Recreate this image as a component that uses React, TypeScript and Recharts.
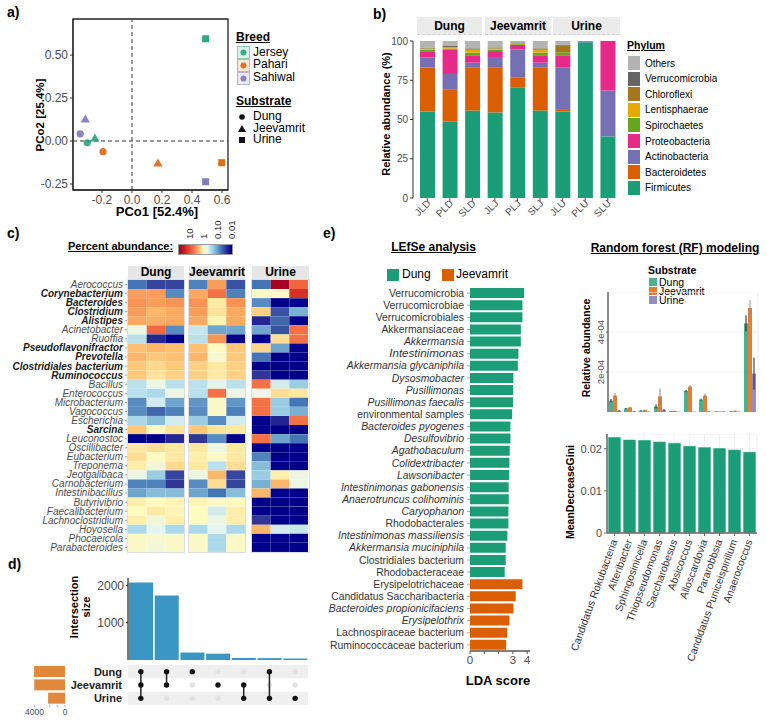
import React from 'react'
import {
  ScatterChart, Scatter, BarChart, Bar, Cell, XAxis, YAxis, CartesianGrid,
  ReferenceLine, ReferenceArea, ErrorBar,
} from 'recharts'

const FONT = '"Liberation Sans", Arial, Helvetica, sans-serif'
const TICK = '#4d4d4d'
const GREEN = '#1b9e77'
const ORANGE = '#d95f02'
const PURPLE = '#7570b3'

// ---------- a) PCoA ----------
const breeds = ['Jersey', 'Pahari', 'Sahiwal']
const dungPco1 = [-0.298, -0.193, -0.345]
const dungPco2 = [-0.01, -0.062, 0.041]
const jeevamritPco1 = [-0.247, 0.173, -0.311]
const jeevamritPco2 = [0.016, -0.13, 0.126]
const urinePco1 = [0.491, 0.598, 0.491]
const urinePco2 = [0.595, -0.126, -0.237]
const PCO1_DOMAIN = [-0.393, 0.64]
const PCO2_DOMAIN = [-0.285, 0.71]

// ---------- b) phylum composition ----------
const samples = ['JLD', 'PLD', 'SLD', 'JLJ', 'PLJ', 'SLJ', 'JLU', 'PLU', 'SLU']
const firmicutes = [55, 48.7, 55.7, 54.5, 70.6, 55.7, 55.1, 99.2, 39.2]
const bacteroidetes = [28, 20.6, 27.6, 28.8, 6.3, 27.6, 1.0, 0, 0]
const actinobacteria = [6.5, 9.7, 2.9, 6.5, 17.8, 2.9, 27.2, 0.6, 29.2]
const proteobacteria = [4, 15.7, 4.3, 3.8, 2.8, 4.3, 7.6, 0.2, 31.6]
const spirochaetes = [1, 0.5, 2.1, 1, 0.5, 2.1, 1.9, 0, 0]
const lentisphaerae = [0.6, 0.7, 1.7, 0.6, 0.8, 1.7, 0, 0, 0]
const chloroflexi = [0.2, 0.2, 0.3, 0.2, 0.1, 0.3, 4.2, 0, 0]
const verrucomicrobia = [0.5, 1, 0.7, 0.5, 0.3, 0.7, 0.5, 0, 0]
const others = [4.2, 2.9, 4.7, 4.1, 0.8, 4.7, 2.5, 0, 0]
const phylumOrder = ['Firmicutes', 'Bacteroidetes', 'Actinobacteria', 'Proteobacteria', 'Spirochaetes', 'Lentisphaerae', 'Chloroflexi', 'Verrucomicrobia', 'Others']
const phylumColors: Record<string, string> = {
  Firmicutes: '#1b9e77', Bacteroidetes: '#d95f02', Actinobacteria: '#7570b3', Proteobacteria: '#e7298a',
  Spirochaetes: '#66a61e', Lentisphaerae: '#e6ab02', Chloroflexi: '#a6761d', Verrucomicrobia: '#666666', Others: '#b3b3b3',
}

// ---------- c) genus heatmap (percent abundance, samples J / P / S) ----------
const genera = [
  'Aerococcus', 'Corynebacterium', 'Bacteroides', 'Clostridium', 'Alistipes', 'Acinetobacter', 'Ruoffia',
  'Pseudoflavonifractor', 'Prevotella', 'Clostridiales bacterium', 'Ruminococcus', 'Bacillus', 'Enterococcus',
  'Microbacterium', 'Vagococcus', 'Escherichia', 'Sarcina', 'Leuconostoc', 'Oscillibacter', 'Eubacterium',
  'Treponema', 'Jeotgalibaca', 'Carnobacterium', 'Intestinibacillus', 'Butyrivibrio', 'Faecalibacterium',
  'Lachnoclostridium', 'Hoyosella', 'Phocaeicola', 'Parabacteroides',
]
const boldGenera = new Set(['Corynebacterium', 'Bacteroides', 'Clostridium', 'Alistipes', 'Pseudoflavonifractor', 'Prevotella', 'Clostridiales bacterium', 'Ruminococcus', 'Sarcina'])
const dungAbundance = [
  [0.05, 0.025, 0.025], [3.5, 3.5, 0.07], [4, 3.5, 4], [3.5, 2.5, 3], [3, 2.8, 3], [0.6, 7, 0.07],
  [0.3, 0.015, 0.005], [2.2, 2.5, 2.2], [2.5, 2, 2.2], [2, 1.6, 2], [2, 1.4, 1.8], [0.3, 0.6, 0.3],
  [0.3, 0.25, 0.6], [0.07, 0.4, 0.1], [0.07, 0.04, 0.06], [0.25, 0.15, 0.4], [2, 0.9, 1.4],
  [0.005, 0.005, 0.015], [1.3, 1.5, 1.3], [1.5, 1.0, 1.3], [1.2, 0.7, 1.6], [0.6, 0.2, 0.025],
  [0.06, 0.06, 0.02], [0.1, 0.15, 0.15], [1.2, 1.0, 1.1], [1.0, 1.3, 1.1], [1.2, 0.7, 1.2],
  [0.25, 0.5, 0.25], [0.9, 0.8, 0.9], [0.9, 0.7, 0.9],
]
const jeevamritAbundance = [
  [0.06, 3.5, 0.03], [3, 6, 0.06], [4, 1.3, 4], [3.5, 1.4, 3], [3, 1.1, 3], [0.35, 0.1, 0.1],
  [0.3, 4, 0.005], [2.2, 1.0, 2], [2.5, 0.8, 2], [1.8, 1.3, 1.8], [1.8, 1.3, 1.8], [0.3, 0.5, 0.3],
  [0.3, 6, 0.6], [0.08, 0.9, 0.08], [0.07, 0.9, 0.06], [0.2, 0.07, 0.4], [2, 1.4, 1.3],
  [0.02, 0.07, 0.005], [1.3, 0.6, 1.3], [1.2, 0.9, 1.3], [1.3, 0.3, 1.5], [0.6, 2.5, 0.025],
  [0.07, 1.5, 0.025], [0.1, 0.05, 0.15], [1.1, 0.9, 1.0], [1.0, 0.4, 1.2], [1.0, 0.6, 1.2],
  [0.25, 0.5, 0.25], [0.9, 0.25, 0.9], [0.9, 0.25, 0.9],
]
const urineAbundance = [
  [0.05, 60, 7], [0.9, 0.9, 20], [0.07, 0.005, 0.005], [1.8, 0.03, 0.12], [0.015, 0.04, 0.005],
  [0.1, 0.03, 6], [0.005, 1.5, 6], [1.7, 0.1, 0.005], [0.05, 0.005, 0.005], [0.005, 0.005, 0.005],
  [0.02, 0.005, 0.005], [6, 0.4, 0.2], [0.6, 1.5, 1.3], [6, 0.2, 0.05], [6, 0.2, 0.12],
  [0.005, 0.015, 6], [0.005, 0.005, 0.005], [6, 0.1, 0.05], [0.005, 0.005, 0.005], [0.06, 0.005, 0.005],
  [0.15, 0.005, 0.005], [0.2, 1.2, 0.6], [0.12, 2.5, 0.6], [2.5, 0.005, 0.005], [0.005, 0.005, 0.005],
  [0.005, 0.005, 0.005], [0.02, 0.005, 0.005], [2.5, 0.4, 0.35], [0.005, 0.005, 0.005], [0.005, 0.005, 0.005],
]

// ---------- d) UpSet ----------
const setNames = ['Dung', 'Jeevamrit', 'Urine']
const setSizes = [4060, 4035, 2225]
const intersectionSizes = [2080, 1730, 200, 170, 55, 50, 40]
const intersectionMembers = [
  ['Dung', 'Jeevamrit', 'Urine'], ['Dung', 'Jeevamrit'], ['Dung'], ['Jeevamrit'],
  ['Jeevamrit', 'Urine'], ['Dung', 'Urine'], ['Urine'],
]

// ---------- e) LEfSe ----------
const lefseTaxa = [
  'Verrucomicrobia', 'Verrucomicrobiae', 'Verrucomicrobiales', 'Akkermansiaceae', 'Akkermansia', 'Intestinimonas',
  'Akkermansia glycaniphila', 'Dysosmobacter', 'Pusillimonas', 'Pusillimonas faecalis', 'environmental samples',
  'Bacteroides pyogenes', 'Desulfovibrio', 'Agathobaculum', 'Colidextribacter', 'Lawsonibacter',
  'Intestinimonas gabonensis', 'Anaerotruncus colihominis', 'Caryophanon', 'Rhodobacterales',
  'Intestinimonas massiliensis', 'Akkermansia muciniphila', 'Clostridiales bacterium', 'Rhodobacteraceae',
  'Erysipelotrichaceae', 'Candidatus Saccharibacteria', 'Bacteroides propionicifaciens', 'Erysipelothrix',
  'Lachnospiraceae bacterium', 'Ruminococcaceae bacterium',
]
const lefseScores = [
  3.79, 3.67, 3.67, 3.56, 3.56, 3.39, 3.35, 3.04, 3.02, 3.02, 2.95, 2.83, 2.83, 2.78, 2.76,
  2.74, 2.71, 2.71, 2.69, 2.69, 2.62, 2.5, 2.5, 2.43, 3.67, 3.2, 3.04, 2.76, 2.6, 2.53,
]
const lefseGroups = [...Array(24).fill('Dung'), ...Array(6).fill('Jeevamrit')]
const italicTaxa = new Set([
  'Akkermansia', 'Intestinimonas', 'Akkermansia glycaniphila', 'Dysosmobacter', 'Pusillimonas', 'Pusillimonas faecalis',
  'Bacteroides pyogenes', 'Desulfovibrio', 'Agathobaculum', 'Colidextribacter', 'Lawsonibacter', 'Intestinimonas gabonensis',
  'Anaerotruncus colihominis', 'Caryophanon', 'Intestinimonas massiliensis', 'Akkermansia muciniphila',
  'Bacteroides propionicifaciens', 'Erysipelothrix',
])

// ---------- e) random forest ----------
const rfGenera = [
  'Candidatus Rokubacteria', 'Alteribacter', 'Sphingosinicella', 'Thiopseudomonas', 'Saccharobesus',
  'Absicoccus', 'Alloscardovia', 'Pararobbsia', 'Candidatus Puniceispirillum', 'Anaerococcus',
]
const rfDung = [5.7e-5, 1.8e-5, 0.7e-5, 2.7e-5, 0.4e-5, 10.5e-5, 6.2e-5, 0.3e-5, 0.3e-5, 44.3e-5]
const rfDungSe = [0.8e-5, 0.3e-5, 0.2e-5, 1.0e-5, 0.1e-5, 0.6e-5, 0.5e-5, 0.1e-5, 0.1e-5, 4e-5]
const rfJeevamrit = [8.2e-5, 2.3e-5, 1.0e-5, 7.8e-5, 0.5e-5, 12.7e-5, 8.2e-5, 0.3e-5, 0.6e-5, 52e-5]
const rfJeevamritSe = [1.2e-5, 0.3e-5, 0.2e-5, 4e-5, 0.2e-5, 0.8e-5, 1.0e-5, 0.1e-5, 0.2e-5, 3.9e-5]
const rfUrine = [0.7e-5, 0.3e-5, 0.1e-5, 1.0e-5, 0.1e-5, 0.1e-5, 0.3e-5, 0.2e-5, 0.1e-5, 19.2e-5]
const rfUrineSe = [0.3e-5, 0.2e-5, 0.1e-5, 0.5e-5, 0.05e-5, 0.1e-5, 0.1e-5, 0.1e-5, 0.1e-5, 8e-5]
const rfGini = [0.0228, 0.0222, 0.0221, 0.0217, 0.0214, 0.0207, 0.0204, 0.0202, 0.0198, 0.0193]

// log10 colour ramp for percent abundance
const heatStops: [number, string][] = [
  [1.8, '#a50026'], [1.3, '#d73027'], [0.8, '#f46d43'], [0.55, '#f99d59'], [0.35, '#fdbf6f'],
  [0.15, '#fee39a'], [0, '#fffac0'], [-0.3, '#e6f4ef'], [-0.6, '#abd9e9'], [-0.95, '#74add1'],
  [-1.3, '#4575b4'], [-1.7, '#313695'], [-2.1, '#00008b'],
]
function mix(a: string, b: string, t: number) {
  const pa = [1, 3, 5].map((i) => parseInt(a.slice(i, i + 2), 16))
  const pb = [1, 3, 5].map((i) => parseInt(b.slice(i, i + 2), 16))
  return 'rgb(' + pa.map((v, i) => Math.round(v + (pb[i] - v) * t)).join(',') + ')'
}
function logColor(l: number) {
  if (l >= heatStops[0][0]) return heatStops[0][1]
  for (let i = 1; i < heatStops.length; i++) {
    if (l >= heatStops[i][0]) {
      const [l0, c0] = heatStops[i - 1]
      const [l1, c1] = heatStops[i]
      return mix(c0, c1, (l0 - l) / (l0 - l1))
    }
  }
  return heatStops[heatStops.length - 1][1]
}
const heatColor = (pct: number) => logColor(Math.log10(pct))

type LabelProps = {
  x: number; y: number; size?: number; bold?: boolean; italic?: boolean; underline?: boolean
  color?: string; center?: boolean; rotate?: boolean; children: React.ReactNode
}
function Label({ x, y, size = 12, bold, italic, underline, color = '#000', center, rotate, children }: LabelProps) {
  let transform: string | undefined
  if (rotate) transform = 'translate(-50%, -50%) rotate(-90deg)'
  else if (center) transform = 'translateX(-50%)'
  return (
    <div style={{
      position: 'absolute', left: x, top: y, fontSize: size, fontWeight: bold ? 700 : 400,
      fontStyle: italic ? 'italic' : 'normal', textDecoration: underline ? 'underline' : 'none',
      color, whiteSpace: 'nowrap', lineHeight: 1.1, transform, textAlign: 'center', fontFamily: FONT,
    }}>{children}</div>
  )
}

const Box = ({ x, y, w, h, style }: { x: number; y: number; w: number; h: number; style?: React.CSSProperties }) => (
  <div style={{ position: 'absolute', left: x, top: y, width: w, height: h, boxSizing: 'border-box', ...style }} />
)

const At = ({ x, y, children }: { x: number; y: number; children: React.ReactNode }) => (
  <div style={{ position: 'absolute', left: x, top: y }}>{children}</div>
)

// ---------- panel a ----------
const breedColor: Record<string, string> = { Jersey: GREEN, Pahari: ORANGE, Sahiwal: PURPLE }
function pcoShape(kind: 'circle' | 'triangle' | 'square') {
  return (p: any) => {
    const { cx, cy, payload } = p
    const fill = breedColor[payload.breed]
    if (kind === 'circle') return <circle cx={cx} cy={cy} r={3.6} fill={fill} fillOpacity={0.85} />
    if (kind === 'square') return <rect x={cx - 3.5} y={cy - 3.5} width={7} height={7} fill={fill} fillOpacity={0.9} />
    return <polygon points={`${cx},${cy - 4.8} ${cx + 4.6},${cy + 3.2} ${cx - 4.6},${cy + 3.2}`} fill={fill} fillOpacity={0.85} />
  }
}

function PcoaPanel() {
  const pts = (xs: number[], ys: number[]) => breeds.map((b, i) => ({ breed: b, x: xs[i], y: ys[i] }))
  const tick = { fill: TICK, fontSize: 12, fontFamily: FONT }
  return (
    <>
      <Label x={7} y={5} size={14} bold>a)</Label>
      <At x={0} y={0}>
        <ScatterChart width={240} height={222} margin={{ top: 19, right: 12, bottom: 0, left: 0 }}>
          <XAxis type="number" dataKey="x" domain={PCO1_DOMAIN} allowDataOverflow ticks={[-0.2, 0, 0.2, 0.4, 0.6]}
            tickFormatter={(v: number) => v.toFixed(1)} height={32} tick={tick} tickSize={3}
            axisLine={{ stroke: '#222' }} tickLine={{ stroke: '#333' }} />
          <YAxis type="number" dataKey="y" domain={PCO2_DOMAIN} allowDataOverflow ticks={[-0.25, 0, 0.25, 0.5]}
            tickFormatter={(v: number) => v.toFixed(2)} width={73} tick={tick} tickSize={3}
            axisLine={{ stroke: '#222' }} tickLine={{ stroke: '#333' }} />
          <ReferenceArea x1={PCO1_DOMAIN[0]} x2={PCO1_DOMAIN[1]} y1={PCO2_DOMAIN[0]} y2={PCO2_DOMAIN[1]}
            fill="none" stroke="#222" strokeWidth={1.3} ifOverflow="visible" />
          <ReferenceLine x={0} stroke="#555" strokeDasharray="4 3" strokeWidth={1.2} />
          <ReferenceLine y={0} stroke="#333" strokeDasharray="4 3" strokeWidth={1.2} />
          <Scatter data={pts(dungPco1, dungPco2)} shape={pcoShape('circle')} isAnimationActive={false} />
          <Scatter data={pts(jeevamritPco1, jeevamritPco2)} shape={pcoShape('triangle')} isAnimationActive={false} />
          <Scatter data={pts(urinePco1, urinePco2)} shape={pcoShape('square')} isAnimationActive={false} />
        </ScatterChart>
      </At>
      <Label x={40} y={115} size={11.5} bold rotate>PCo2 [25.4%]</Label>
      <Label x={157} y={205} size={13} bold center>PCo1 [52.4%]</Label>

      <Label x={236} y={31} size={12} bold underline>Breed</Label>
      {breeds.map((b, i) => (
        <React.Fragment key={b}>
          <svg style={{ position: 'absolute', left: 237, top: 46 + i * 12.8 }} width={13} height={13}>
            <rect x={0.5} y={0.5} width={12} height={12} fill={breedColor[b]} fillOpacity={0.15} stroke={breedColor[b]} strokeOpacity={0.5} />
            <circle cx={6.5} cy={6.5} r={3} fill={breedColor[b]} fillOpacity={0.85} />
          </svg>
          <Label x={253} y={45.5 + i * 12.8} size={12}>{b}</Label>
        </React.Fragment>
      ))}
      <Label x={236} y={95} size={12} bold underline>Substrate</Label>
      {['Dung', 'Jeevamrit', 'Urine'].map((s, i) => (
        <React.Fragment key={s}>
          <svg style={{ position: 'absolute', left: 237, top: 111 + i * 11.7 }} width={12} height={12}>
            {i === 0 && <circle cx={5} cy={6} r={2.8} fill="#111" />}
            {i === 1 && <polygon points="5,2 9,9 1,9" fill="#111" />}
            {i === 2 && <rect x={2} y={3} width={6} height={6} fill="#111" />}
          </svg>
          <Label x={253} y={110 + i * 11.7} size={12}>{s}</Label>
        </React.Fragment>
      ))}
    </>
  )
}

// ---------- panel b ----------
function SampleTick({ x, y, payload }: any) {
  const ax = x + 4
  const ay = y + 1
  return (
    <text x={ax} y={ay} textAnchor="end" transform={`rotate(-45 ${ax} ${ay})`} fontSize={10} fill={TICK} fontFamily={FONT}>
      {payload.value}
    </text>
  )
}

function PhylumPanel() {
  const series: Record<string, number[]> = {
    Firmicutes: firmicutes, Bacteroidetes: bacteroidetes, Actinobacteria: actinobacteria, Proteobacteria: proteobacteria,
    Spirochaetes: spirochaetes, Lentisphaerae: lentisphaerae, Chloroflexi: chloroflexi, Verrucomicrobia: verrucomicrobia, Others: others,
  }
  const data = samples.map((s, i) => {
    const row: Record<string, string | number> = { sample: s }
    phylumOrder.forEach((p) => { row[p] = series[p][i] })
    return row
  })
  const strips = [['Dung', 417, 65], ['Jeevamrit', 485, 66], ['Urine', 553, 67]] as const
  return (
    <>
      <Label x={373} y={7} size={14} bold>b)</Label>
      {strips.map(([t, x, w]) => (
        <div key={t} style={{
          position: 'absolute', left: x, top: 17, width: w, height: 18, background: '#ebebeb',
          fontFamily: FONT, fontWeight: 700, fontSize: 12, lineHeight: '18px', textAlign: 'center',
          borderBottom: '1px dashed #cfcfcf', boxSizing: 'border-box',
        }}>{t}</div>
      ))}
      <At x={330} y={0}>
        <BarChart width={300} height={230} data={data} margin={{ top: 41, right: 11, bottom: 2, left: 0 }} barSize={15}>
          <XAxis dataKey="sample" height={30} interval={0} tick={<SampleTick />} padding={{ left: 3, right: 0 }}
            axisLine={false} tickSize={3} tickLine={{ stroke: '#555' }} />
          <YAxis domain={[0, 100]} ticks={[0, 25, 50, 75, 100]} width={83} tickSize={3}
            tick={{ fill: TICK, fontSize: 10, fontFamily: FONT }} axisLine={{ stroke: '#333' }} tickLine={{ stroke: '#333' }} />
          {phylumOrder.map((p) => (
            <Bar key={p} dataKey={p} stackId="phyla" fill={phylumColors[p]} isAnimationActive={false} />
          ))}
        </BarChart>
      </At>
      <Label x={385.5} y={114} size={11} bold rotate>Relative abundance (%)</Label>
      <Label x={627} y={40} size={10.5} bold underline>Phylum</Label>
      {[...phylumOrder].reverse().map((p, i) => (
        <React.Fragment key={p}>
          <Box x={628} y={56 + i * 15.6} w={12} h={14} style={{ background: phylumColors[p] }} />
          <Label x={645} y={57.5 + i * 15.6} size={10}>{p}</Label>
        </React.Fragment>
      ))}
    </>
  )
}

// ---------- panel c ----------
function GenusTick({ x, y, payload }: any) {
  const bold = boldGenera.has(payload.value)
  return (
    <text x={x} y={y} dy={3.4} textAnchor="end" fontFamily={FONT} fontSize={10} fontStyle="italic"
      fontWeight={bold ? 700 : 400} fill={bold ? '#1a1a1a' : '#4d4d4d'}>{payload.value}</text>
  )
}

// each facet draws its plot 272px tall, starting 8px below the chart top
function HeatFacet({ values, labels }: { values: number[][]; labels: boolean }) {
  const rows = genera.map((g) => ({ genus: g, s1: 1, s2: 1, s3: 1 }))
  const width = labels ? 184 : 56
  return (
    <BarChart layout="vertical" width={width} height={284} data={rows} margin={{ top: 8, right: 0, bottom: 4, left: 0 }} barCategoryGap={0}>
      <XAxis type="number" domain={[0, 3]} hide />
      {labels ? (
        <YAxis type="category" dataKey="genus" width={128} interval={0} tick={<GenusTick />} axisLine={false}
          tickSize={3} tickMargin={2} tickLine={{ stroke: '#999' }} />
      ) : (
        <YAxis type="category" dataKey="genus" hide />
      )}
      {['s1', 's2', 's3'].map((k, j) => (
        <Bar key={k} dataKey={k} stackId="cells" isAnimationActive={false}>
          {rows.map((r, i) => <Cell key={r.genus} fill={heatColor(values[i][j])} />)}
        </Bar>
      ))}
    </BarChart>
  )
}

function HeatmapPanel() {
  // colour bar: 10^1.876 at the left edge, 10^-2.146 at the right edge
  const barL = 1.876
  const barR = -2.146
  const grad = Array.from({ length: 25 }, (_, i) => {
    const l = barL + (barR - barL) * (i / 24)
    return `${logColor(l)} ${(i / 24) * 100}%`
  }).join(', ')
  const barX = (l: number) => 178 + ((barL - l) / (barL - barR)) * 55
  const barTicks: [number, string][] = [[1, '10'], [0, '1'], [-1, '0.10'], [-2, '0.01']]
  const facets = [['Dung', 128, 56], ['Jeevamrit', 189, 56], ['Urine', 252, 57]] as const
  return (
    <>
      <Label x={7} y={226} size={14} bold>c)</Label>
      <Label x={68} y={240} size={11} bold underline>Percent abundance:</Label>
      <Box x={178} y={244} w={55} h={11} style={{ background: `linear-gradient(to right, ${grad})`, border: '1px solid #999' }} />
      <svg style={{ position: 'absolute', left: 0, top: 215 }} width={260} height={30}>
        {barTicks.map(([l, t]) => (
          <text key={t} x={barX(l)} y={24} transform={`rotate(-90 ${barX(l)} 24)`} dominantBaseline="central"
            fontSize={9.5} fill="#222" fontFamily={FONT}>{t}</text>
        ))}
      </svg>
      {facets.map(([t, x, w]) => (
        <div key={t} style={{
          position: 'absolute', left: x, top: 266, width: w, height: 13, background: '#e6e6e6',
          fontFamily: FONT, fontWeight: 700, fontSize: 12, lineHeight: '13px', textAlign: 'center',
        }}>{t}</div>
      ))}
      <At x={0} y={272}><HeatFacet values={dungAbundance} labels /></At>
      <At x={189} y={272}><HeatFacet values={jeevamritAbundance} labels={false} /></At>
      <At x={252} y={272}><HeatFacet values={urineAbundance} labels={false} /></At>
      {facets.map(([t, x, w]) => (
        <Box key={t} x={x - 1} y={279} w={w + 2} h={274} style={{ border: '1px solid #dedede' }} />
      ))}
    </>
  )
}

// ---------- panel d ----------
const MatrixDot = (p: any) => <circle cx={p.cx} cy={p.cy} r={2.7} fill="#111" />
const EmptyDot = (p: any) => <circle cx={p.cx} cy={p.cy} r={2.7} fill="#e2e2e2" />

function UpsetPanel() {
  const barData = intersectionSizes.map((v, i) => ({ id: i, size: v }))
  const rowOf = (name: string) => 2 - setNames.indexOf(name)
  const inactive = intersectionMembers.flatMap((m, col) =>
    setNames.filter((s) => !m.includes(s)).map((s) => ({ col, row: rowOf(s) })))
  const setData = setNames.map((s, i) => ({ name: s, size: setSizes[i] }))
  return (
    <>
      <Label x={8} y={557} size={14} bold>d)</Label>
      <At x={80} y={575}>
        <BarChart width={230} height={86} data={barData} margin={{ top: 3, right: 2, bottom: 1, left: 0 }} barCategoryGap={1}>
          <XAxis dataKey="id" tick={false} height={0} axisLine={{ stroke: '#222', strokeWidth: 1.2 }} tickLine={false} />
          <YAxis domain={[0, 2200]} ticks={[0, 1000, 2000]} width={48} tickSize={2}
            tick={{ fill: TICK, fontSize: 12, fontFamily: FONT }} axisLine={{ stroke: '#222', strokeWidth: 1.2 }} tickLine={{ stroke: '#222' }} />
          <Bar dataKey="size" fill="#3a97c4" isAnimationActive={false} />
        </BarChart>
      </At>
      <Label x={80} y={607} size={11} bold rotate><span>Intersection<br />size</span></Label>
      <At x={60} y={665}>
        <ScatterChart width={250} height={40} margin={{ top: 0, right: 2, bottom: 0, left: 0 }}>
          <XAxis type="number" dataKey="col" domain={[-0.5, 6.5]} hide />
          <YAxis type="number" dataKey="row" domain={[-0.5, 2.5]} ticks={[0, 1, 2]} interval={0}
            tickFormatter={(v: number) => setNames[2 - v]}
            width={68} axisLine={false} tickLine={false} tickSize={0} tickMargin={6}
            tick={{ fill: '#222', fontSize: 11, fontWeight: 700, fontFamily: FONT }} />
          <ReferenceArea y1={1.5} y2={2.5} fill="#efefef" fillOpacity={1} stroke="none" />
          <ReferenceArea y1={-0.5} y2={0.5} fill="#efefef" fillOpacity={1} stroke="none" />
          <Scatter data={inactive} shape={EmptyDot} isAnimationActive={false} />
          {intersectionMembers.map((m, col) => (
            <Scatter key={col} data={m.map((s) => ({ col, row: rowOf(s) }))} shape={MatrixDot}
              line={{ stroke: '#222', strokeWidth: 1.5 }} isAnimationActive={false} />
          ))}
        </ScatterChart>
      </At>
      <At x={10} y={665}>
        <BarChart layout="vertical" width={60} height={54} data={setData} margin={{ top: 0, right: 5, bottom: 0, left: 20 }} barCategoryGap={1}>
          <XAxis type="number" reversed domain={[0, 4600]} ticks={[0, 1000, 2000, 3000, 4000]}
            tickFormatter={(v: number) => (v === 0 || v === 4000 ? String(v) : '')} height={14} axisLine={false}
            tickSize={2} tickLine={{ stroke: '#aaa' }} tick={{ fill: TICK, fontSize: 8.5, fontFamily: FONT }} />
          <YAxis type="category" dataKey="name" hide />
          <Bar dataKey="size" fill="#e0883c" isAnimationActive={false} />
        </BarChart>
      </At>
    </>
  )
}

// ---------- panel e, LEfSe ----------
function TaxonTick({ x, y, payload }: any) {
  const t = payload.value as string
  const big = t === 'Intestinimonas'
  return (
    <text x={x} y={y} dy={3.6} textAnchor="end" fontFamily={FONT} fontSize={big ? 11.6 : 10.4}
      fontStyle={italicTaxa.has(t) ? 'italic' : 'normal'} fill="#333">{t}</text>
  )
}

function LefsePanel() {
  const data = lefseTaxa.map((t, i) => ({ taxon: t, lda: lefseScores[i], group: lefseGroups[i] }))
  return (
    <>
      <Label x={323} y={226} size={14} bold>e)</Label>
      <Label x={433.5} y={241} size={12} bold underline center>LEfSe analysis</Label>
      <Box x={387} y={269} w={12} h={12} style={{ background: GREEN }} />
      <Label x={402} y={268} size={12}>Dung</Label>
      <Box x={442} y={269} w={12} h={12} style={{ background: ORANGE }} />
      <Label x={456} y={268} size={12}>Jeevamrit</Label>
      <At x={300} y={287}>
        <BarChart layout="vertical" width={230} height={382} data={data} margin={{ top: 0, right: 0, bottom: 0, left: 0 }}>
          <XAxis type="number" domain={[0, 4.2]} ticks={[0, 1, 2, 3, 4]}
            tickFormatter={(v: number) => (v === 1 || v === 2 ? '' : String(v))} height={18} tickSize={3}
            axisLine={{ stroke: '#555', strokeWidth: 1.5 }} tickLine={{ stroke: '#555' }}
            tick={{ fill: TICK, fontSize: 11.5, fontFamily: FONT }} />
          <YAxis type="category" dataKey="taxon" width={170} interval={0} tick={<TaxonTick />} axisLine={false}
            tickSize={3} tickMargin={3} tickLine={{ stroke: '#aaa' }} />
          <Bar dataKey="lda" barSize={10} isAnimationActive={false}>
            {data.map((d) => <Cell key={d.taxon} fill={d.group === 'Dung' ? GREEN : ORANGE} />)}
          </Bar>
        </BarChart>
      </At>
      <Label x={498} y={674} size={13} bold center>LDA score</Label>
    </>
  )
}

// ---------- panel e, random forest ----------
function ExpTick({ x, y, payload }: any) {
  return (
    <text x={x} y={y} textAnchor="middle" transform={`rotate(-90 ${x} ${y})`} fontSize={9.5} fill={TICK} fontFamily={FONT}>
      {`${Math.round(payload.value * 1e4)}e-04`}
    </text>
  )
}

function SlantTick({ x, y, payload }: any) {
  const ax = x + 3
  const ay = y + 3
  return (
    <text x={ax} y={ay} textAnchor="end" transform={`rotate(-70 ${ax} ${ay})`} fontSize={10.5} fill="#333" fontFamily={FONT}>
      {payload.value}
    </text>
  )
}

function ForestPanel() {
  const abund = rfGenera.map((g, i) => ({
    genus: g, dung: rfDung[i], dungSe: rfDungSe[i], jeevamrit: rfJeevamrit[i], jeevamritSe: rfJeevamritSe[i],
    urine: rfUrine[i], urineSe: rfUrineSe[i],
  }))
  const gini = rfGenera.map((g, i) => ({ genus: g, gini: rfGini[i] }))
  const legend = [['Dung', GREEN], ['Jeevamrit', ORANGE], ['Urine', PURPLE]] as const
  return (
    <>
      <Label x={675} y={242} size={12} bold underline center>Random forest (RF) modeling</Label>
      <Label x={648} y={265} size={10.5} bold>Substrate</Label>
      {legend.map(([t, c], i) => (
        <React.Fragment key={t}>
          <Box x={649} y={278 + i * 9} w={8} h={8} style={{ background: c, opacity: 0.8 }} />
          <div style={{
            position: 'absolute', left: 659, top: 278 + i * 9, height: 9, fontSize: 10.5, lineHeight: '9px',
            fontFamily: FONT, whiteSpace: 'nowrap',
          }}>{t}</div>
        </React.Fragment>
      ))}
      <At x={560} y={292}>
        <BarChart width={200} height={120} data={abund} margin={{ top: 0, right: 2, bottom: 0, left: 0 }} barGap={0} barCategoryGap={1}>
          <CartesianGrid stroke="#efefef" />
          <XAxis dataKey="genus" tick={false} height={0} tickLine={false} axisLine={{ stroke: '#666', strokeWidth: 1.5 }} />
          <YAxis domain={[0, 6e-4]} ticks={[2e-4, 4e-4]} width={48} tick={<ExpTick />} tickSize={2} tickMargin={2}
            axisLine={{ stroke: '#666', strokeWidth: 1.5 }} tickLine={{ stroke: '#666' }} />
          <Bar dataKey="dung" fill={GREEN} fillOpacity={0.8} isAnimationActive={false}>
            <ErrorBar dataKey="dungSe" width={0} stroke="#222" strokeWidth={1} />
          </Bar>
          <Bar dataKey="jeevamrit" fill={ORANGE} fillOpacity={0.8} isAnimationActive={false}>
            <ErrorBar dataKey="jeevamritSe" width={0} stroke="#8a8a8a" strokeWidth={1} />
          </Bar>
          <Bar dataKey="urine" fill={PURPLE} fillOpacity={0.8} isAnimationActive={false}>
            <ErrorBar dataKey="urineSe" width={0} stroke="#222" strokeWidth={1} />
          </Bar>
        </BarChart>
      </At>
      <Label x={587} y={348} size={10.5} bold rotate>Relative abundance</Label>

      <At x={540} y={434}>
        <BarChart width={220} height={259} data={gini} margin={{ top: 0, right: 3, bottom: 0, left: 0 }} barCategoryGap={1}>
          <CartesianGrid stroke="#efefef" />
          <XAxis dataKey="genus" interval={0} height={160} tick={<SlantTick />} tickSize={3}
            axisLine={{ stroke: '#666', strokeWidth: 1.5 }} tickLine={{ stroke: '#666' }} />
          <YAxis domain={[0, 0.0235]} ticks={[0, 0.01, 0.02]} width={67} tickSize={3}
            tickFormatter={(v: number) => (v === 0 ? '0' : String(v))}
            tick={{ fill: TICK, fontSize: 11, fontFamily: FONT }} axisLine={{ stroke: '#666', strokeWidth: 1.5 }} tickLine={{ stroke: '#666' }} />
          <Bar dataKey="gini" fill={GREEN} stroke="#ffffff" strokeWidth={0.6} isAnimationActive={false} />
        </BarChart>
      </At>
      <Label x={571} y={492} size={10.5} bold rotate>MeanDecreaseGini</Label>
    </>
  )
}

export default function App() {
  return (
    <div style={{ position: 'absolute', left: 0, top: 0, width: 767, height: 723, background: '#fff', overflow: 'hidden', fontFamily: FONT }}>
      <PcoaPanel />
      <PhylumPanel />
      <HeatmapPanel />
      <UpsetPanel />
      <LefsePanel />
      <ForestPanel />
    </div>
  )
}
